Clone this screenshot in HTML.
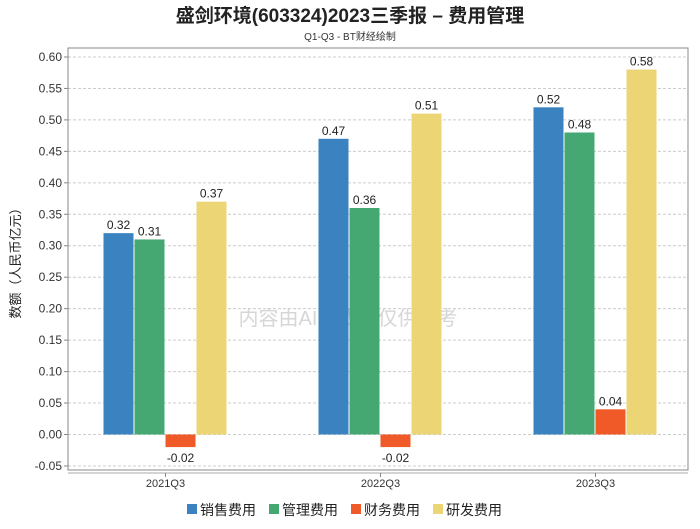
<!DOCTYPE html>
<html><head><meta charset="utf-8"><style>
body{margin:0;background:#fff;font-family:"Liberation Sans","Noto Sans CJK SC",sans-serif;}
</style></head><body>
<svg id="c" width="700" height="524" xmlns="http://www.w3.org/2000/svg">
<text x="350" y="22" text-anchor="middle" font-size="19" font-weight="bold" fill="#222" font-family="Liberation Sans, Noto Sans CJK SC, sans-serif">盛剑环境(603324)2023三季报 – 费用管理</text>
<text x="350" y="40" text-anchor="middle" font-size="10" fill="#333" font-family="Liberation Sans, Noto Sans CJK SC, sans-serif">Q1-Q3 - BT财经绘制</text>
<text x="20" y="260" transform="rotate(-90 20 260)" text-anchor="middle" font-size="13" fill="#222" font-family="Liberation Sans, Noto Sans CJK SC, sans-serif">数额（人民币亿元）</text>
<text x="348" y="325" text-anchor="middle" font-size="20" fill="#bbb" opacity="0.6" font-family="Liberation Sans, Noto Sans CJK SC, sans-serif">内容由AI生成，仅供参考</text>
<g id="plot"></g>
</svg>
<script>
const categories=["2021Q3","2022Q3","2023Q3"];
const seriesNames=["销售费用","管理费用","财务费用","研发费用"];
const sales=[0.32,0.47,0.52];
const admin=[0.31,0.36,0.48];
const finance=[-0.02,-0.02,0.04];
const rnd=[0.37,0.51,0.58];
const yTicks=[-0.05,0,0.05,0.1,0.15,0.2,0.25,0.3,0.35,0.4,0.45,0.5,0.55,0.6];
const colors=["#3a83c0","#45a872","#f05a28","#ecd574"];
const NS="http://www.w3.org/2000/svg";
const g=document.getElementById('plot');
const L=68,R=688,T=48,B=470;
const y=v=>434.5-v*629.2;
const xc=i=>165.5+i*215;
function mk(t,a){const e=document.createElementNS(NS,t);for(const k in a)e.setAttribute(k,a[k]);g.appendChild(e);return e;}
yTicks.forEach(v=>{
 const gl=mk('line',{x1:L,x2:R,y1:y(v),y2:y(v),stroke:'#ccc','stroke-dasharray':'3,2'});
 
 
 mk('line',{x1:L-4,x2:L,y1:y(v),y2:y(v),stroke:'#888'});
 const t=mk('text',{x:L-6,y:y(v)+4,'text-anchor':'end','font-size':12,fill:'#333'});
 t.textContent=v.toFixed(2);
 
 
});
mk('rect',{x:L,y:T,width:R-L,height:B-T,fill:'none',stroke:'#888'});
mk('line',{x1:L,x2:R,y1:B+3,y2:B+3,stroke:'#aaa'});
const all=[sales,admin,finance,rnd];
categories.forEach((c,i)=>{
 const t=mk('text',{x:xc(i),y:487,'text-anchor':'middle','font-size':11,fill:'#333'});
 t.textContent=c;
 
 
 mk('line',{x1:xc(i),x2:xc(i),y1:B+3,y2:B+7,stroke:'#888'});
 all.forEach((s,j)=>{
  const v=s[i];const x=xc(i)-62+j*31;
  const top=Math.min(y(v),y(0)),h=Math.abs(y(v)-y(0));
  const b=mk('rect',{x:x,y:top,width:30,height:h,fill:colors[j]});
  
  
  const l=mk('text',{x:x+15,y:v>=0?top-4:y(v)+15,'text-anchor':'middle','font-size':12,fill:'#222'});
  l.textContent=v.toFixed(2);
  
  
 });
});
let lx=187;
seriesNames.forEach((n,j)=>{
 const r=mk('rect',{x:lx,y:504,width:10,height:10,fill:colors[j]});
 
 
 const t=mk('text',{x:lx+13,y:515,'font-size':14,fill:'#222'});
 t.textContent=n;
 
 
 lx+=82;
});
</script>
</body></html>
